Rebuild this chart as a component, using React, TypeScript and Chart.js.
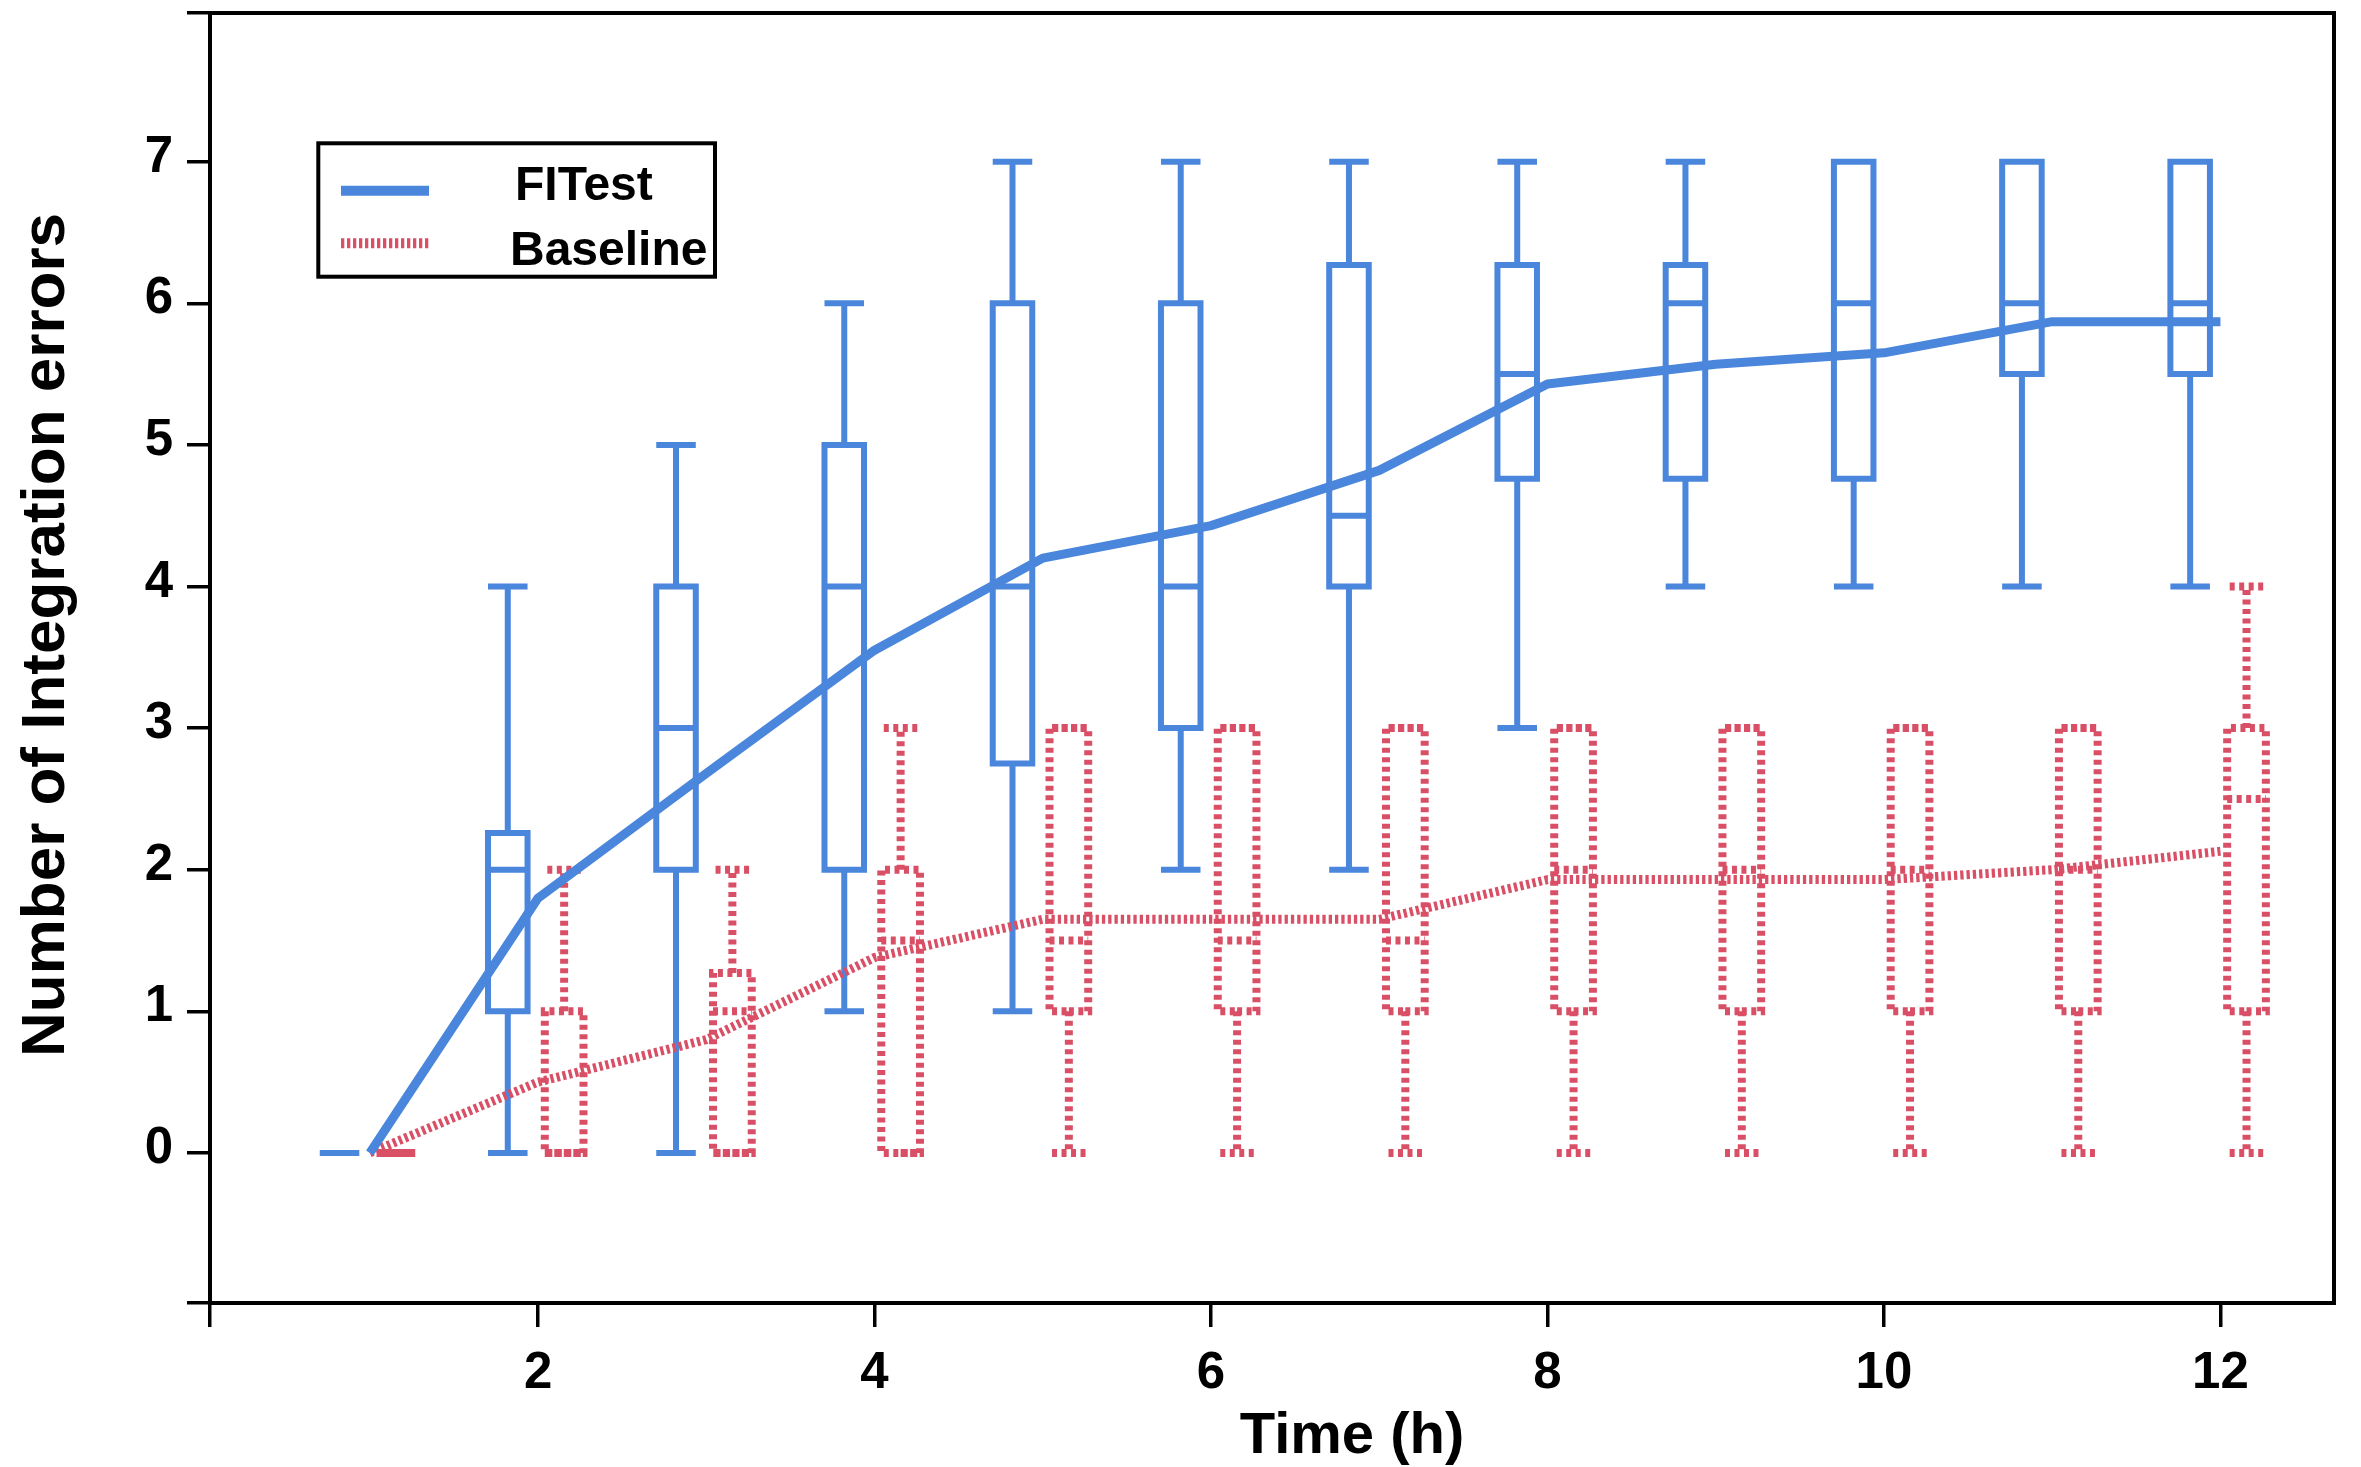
import React, { useEffect, useRef } from 'react';
import { Chart, registerables } from 'chart.js';

Chart.register(...registerables);

// ---------------- data ----------------
const HOURS = [1, 2, 3, 4, 5, 6, 7, 8, 9, 10, 11, 12];
const SERIES_NAMES = ['FITest', 'Baseline'];

const FITEST_MIN = [0, 0, 0, 1, 1, 2, 2, 3, 4, 4, 4, 4];
const FITEST_Q1 = [0, 1, 2, 2, 2.75, 3, 4, 4.76, 4.76, 4.76, 5.5, 5.5];
const FITEST_MEDIAN = [0, 2, 3, 4, 4, 4, 4.5, 5.5, 6, 6, 6, 6];
const FITEST_Q3 = [0, 2.26, 4, 5, 6, 6, 6.27, 6.27, 6.27, 7, 7, 7];
const FITEST_MAX = [0, 4, 5, 6, 7, 7, 7, 7, 7, 7, 7, 7];
const FITEST_MEAN = [0, 1.8, 2.68, 3.55, 4.2, 4.43, 4.82, 5.43, 5.57, 5.65, 5.87, 5.87];

const BASELINE_MIN = [0, 0, 0, 0, 0, 0, 0, 0, 0, 0, 0, 0];
const BASELINE_Q1 = [0, 0, 0, 0, 1, 1, 1, 1, 1, 1, 1, 1];
const BASELINE_MEDIAN = [0, 0, 1, 1.5, 1.5, 1.5, 1.5, 2, 2, 2, 2, 2.5];
const BASELINE_Q3 = [0, 1, 1.27, 2, 3, 3, 3, 3, 3, 3, 3, 3];
const BASELINE_MAX = [0, 2, 2, 3, 3, 3, 3, 3, 3, 3, 3, 4];
const BASELINE_MEAN = [0, 0.5, 0.8, 1.38, 1.65, 1.65, 1.65, 1.93, 1.93, 1.93, 2.0, 2.13];

const X_TICKS = [2, 4, 6, 8, 10, 12];
const Y_TICKS = [0, 1, 2, 3, 4, 5, 6, 7];
const X_RANGE = [0.05, 12.675];
const Y_RANGE = [-1.06, 8.05];

const X_TITLE = 'Time (h)';
const Y_TITLE = 'Number of Integration errors';

// ---------------- style ----------------
const BLUE = '#4A86DB';
const RED = '#D84F66';
const FONT = '"Liberation Sans", Arial, Helvetica, sans-serif';

type Pt = { x: number; y: number | null };

function boxPath(
  mins: number[], q1s: number[], meds: number[], q3s: number[], maxs: number[],
  offset: number, half: number, capHalf: number
): Pt[] {
  const pts: Pt[] = [];
  const gap = (x: number) => pts.push({ x, y: null });
  HOURS.forEach((h, i) => {
    const cx = h + offset;
    const l = cx - half;
    const r = cx + half;
    // box
    pts.push({ x: cx, y: q1s[i] }, { x: r, y: q1s[i] }, { x: r, y: q3s[i] }, { x: l, y: q3s[i] }, { x: l, y: q1s[i] }, { x: cx, y: q1s[i] });
    gap(cx);
    // median
    pts.push({ x: l, y: meds[i] }, { x: r, y: meds[i] });
    gap(r);
    // upper whisker + cap
    pts.push({ x: cx, y: q3s[i] }, { x: cx, y: maxs[i] });
    gap(cx);
    pts.push({ x: cx - capHalf, y: maxs[i] }, { x: cx + capHalf, y: maxs[i] });
    gap(cx);
    // lower whisker + cap
    pts.push({ x: cx, y: q1s[i] }, { x: cx, y: mins[i] });
    gap(cx);
    pts.push({ x: cx - capHalf, y: mins[i] }, { x: cx + capHalf, y: mins[i] });
    gap(cx);
  });
  return pts;
}

const overlayPlugin = {
  id: 'overlay',
  afterDraw(chart: any) {
    const ctx = chart.ctx as CanvasRenderingContext2D;
    const a = chart.chartArea;
    ctx.save();
    // frame top/right
    ctx.strokeStyle = '#000';
    ctx.lineWidth = 4;
    ctx.lineCap = 'square';
    ctx.beginPath();
    ctx.moveTo(a.left, a.top);
    ctx.lineTo(a.right, a.top);
    ctx.lineTo(a.right, a.bottom);
    ctx.stroke();

    // legend
    ctx.lineCap = 'butt';
    ctx.lineWidth = 4;
    ctx.strokeRect(318.3, 143.3, 396.7, 133.4);
    ctx.lineWidth = 10;
    ctx.strokeStyle = BLUE;
    ctx.setLineDash([]);
    ctx.beginPath();
    ctx.moveTo(341, 190.7);
    ctx.lineTo(429, 190.7);
    ctx.stroke();
    ctx.strokeStyle = RED;
    ctx.setLineDash([3.3, 2.7]);
    ctx.beginPath();
    ctx.moveTo(341, 243.3);
    ctx.lineTo(429, 243.3);
    ctx.stroke();
    ctx.setLineDash([]);
    ctx.fillStyle = '#000';
    ctx.font = `bold 48px ${FONT}`;
    ctx.textBaseline = 'alphabetic';
    ctx.textAlign = 'left';
    ctx.fillText(SERIES_NAMES[0], 515, 200);
    ctx.fillText(SERIES_NAMES[1], 510, 265);

    // axis titles
    ctx.font = `bold 58px ${FONT}`;
    ctx.textAlign = 'center';
    ctx.fillText(X_TITLE, 1352, 1453);
    ctx.save();
    ctx.font = `bold 62px ${FONT}`;
    ctx.translate(64, 635);
    ctx.rotate(-Math.PI / 2);
    ctx.fillText(Y_TITLE, 0, 0);
    ctx.restore();
    ctx.restore();
  },
};

export default function App() {
  const ref = useRef<HTMLCanvasElement | null>(null);

  useEffect(() => {
    document.body.style.margin = '0';
    const canvas = ref.current;
    if (!canvas) return;

    const blueMean = HOURS.map((h, i) => ({ x: h, y: FITEST_MEAN[i] }));
    const redMean = HOURS.map((h, i) => ({ x: h, y: BASELINE_MEAN[i] }));
    const blueBoxes = boxPath(FITEST_MIN, FITEST_Q1, FITEST_MEDIAN, FITEST_Q3, FITEST_MAX, -0.18, 0.1175, 0.1175);
    const redBoxes = boxPath(BASELINE_MIN, BASELINE_Q1, BASELINE_MEDIAN, BASELINE_Q3, BASELINE_MAX, 0.155, 0.115, 0.1);

    const common = {
      showLine: true,
      pointRadius: 0,
      pointHoverRadius: 0,
      spanGaps: false,
      tension: 0,
      fill: false,
    };

    const chart = new Chart(canvas, {
      type: 'scatter',
      data: {
        datasets: [
          { ...common, label: SERIES_NAMES[0] + ' mean', data: blueMean, borderColor: BLUE, borderWidth: 9, borderJoinStyle: 'round', borderCapStyle: 'butt' } as any,
          { ...common, label: SERIES_NAMES[1] + ' mean', data: redMean, borderColor: RED, borderWidth: 9, borderDash: [3.3, 3], borderJoinStyle: 'round', borderCapStyle: 'butt' } as any,
          { ...common, label: SERIES_NAMES[0], data: blueBoxes, borderColor: BLUE, borderWidth: 6, borderJoinStyle: 'miter', borderCapStyle: 'butt' } as any,
          { ...common, label: SERIES_NAMES[1], data: redBoxes, borderColor: RED, borderWidth: 8, borderDash: [5, 4.5], borderJoinStyle: 'miter', borderCapStyle: 'butt' } as any,
        ],
      },
      options: {
        animation: false,
        responsive: false,
        devicePixelRatio: 1,
        layout: { padding: { left: 0, right: 27, top: 13, bottom: 0 } },
        plugins: { legend: { display: false }, tooltip: { enabled: false } },
        events: [],
        scales: {
          x: {
            type: 'linear',
            min: X_RANGE[0],
            max: X_RANGE[1],
            afterBuildTicks: (scale: any) => {
              scale.ticks = [X_RANGE[0], ...X_TICKS].map((v) => ({ value: v }));
            },
            afterFit: (scale: any) => {
              scale.height = 164;
              scale.paddingLeft = 0;
              scale.paddingRight = 0;
            },
            grid: { drawOnChartArea: false, drawTicks: true, tickLength: 24, color: '#000', lineWidth: 3.5, tickWidth: 3.5, tickColor: '#000' },
            border: { display: true, color: '#000', width: 4 },
            ticks: {
              autoSkip: false,
              maxRotation: 0,
              minRotation: 0,
              padding: 16,
              color: '#000',
              font: { family: FONT, size: 51, weight: 'bold' },
              callback: (v: any) => (X_TICKS.includes(Number(v)) ? String(v) : ''),
            },
          },
          y: {
            type: 'linear',
            min: Y_RANGE[0],
            max: Y_RANGE[1],
            afterBuildTicks: (scale: any) => {
              scale.ticks = [Y_RANGE[0], ...Y_TICKS, Y_RANGE[1]].map((v) => ({ value: v }));
            },
            afterFit: (scale: any) => {
              scale.width = 210;
              scale.paddingTop = 0;
              scale.paddingBottom = 0;
            },
            grid: { drawOnChartArea: false, drawTicks: true, tickLength: 23, color: '#000', lineWidth: 3.5, tickWidth: 3.5, tickColor: '#000' },
            border: { display: true, color: '#000', width: 4 },
            ticks: {
              autoSkip: false,
              padding: 14,
              labelOffset: -4,
              color: '#000',
              font: { family: FONT, size: 51, weight: 'bold' },
              callback: (v: any) => (Y_TICKS.includes(Number(v)) ? String(v) : ''),
            },
          },
        },
      } as any,
      plugins: [overlayPlugin],
    });

    return () => chart.destroy();
  }, []);

  return (
    <canvas
      ref={ref}
      width={2361}
      height={1467}
      style={{ display: 'block', width: '2361px', height: '1467px', background: '#fff' }}
    />
  );
}
